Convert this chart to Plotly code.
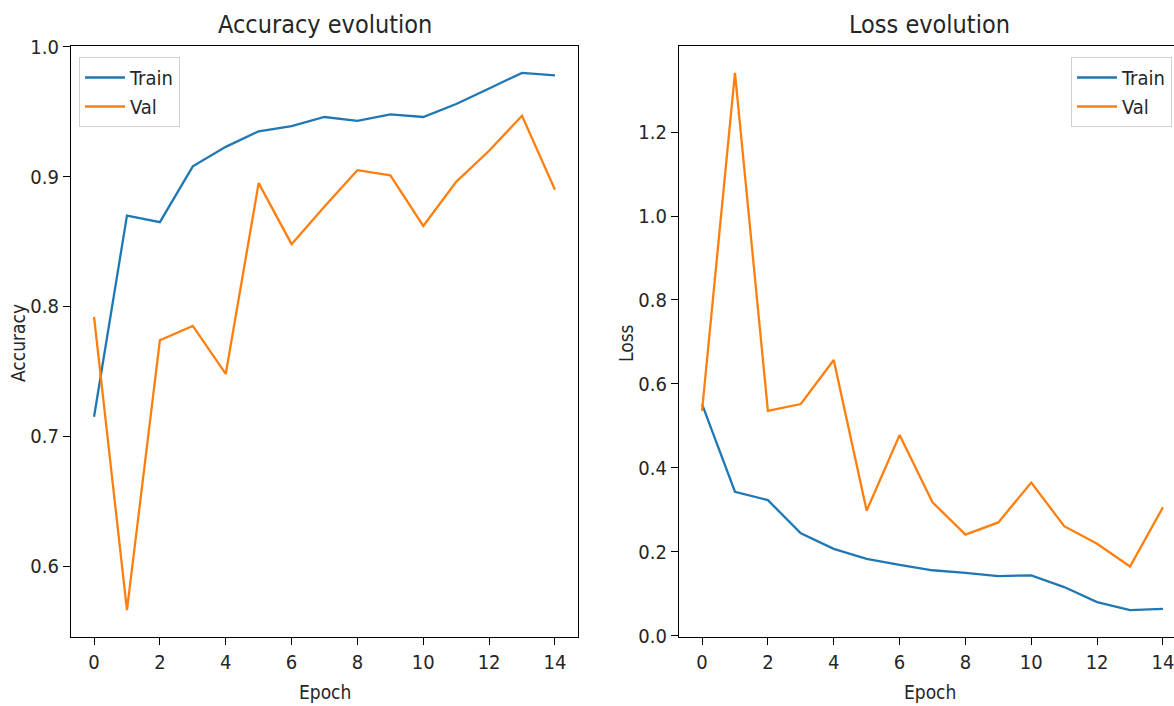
import plotly.graph_objects as go

# ---- data ----
epochs = list(range(15))
train_acc = [0.715, 0.870, 0.865, 0.908, 0.923, 0.935, 0.939, 0.946, 0.943, 0.948,
             0.946, 0.956, 0.968, 0.980, 0.978]
val_acc = [0.792, 0.566, 0.774, 0.785, 0.748, 0.895, 0.848, 0.877, 0.905, 0.901,
           0.862, 0.896, 0.920, 0.947, 0.890]
train_loss = [0.552, 0.343, 0.323, 0.244, 0.207, 0.183, 0.169, 0.156, 0.150, 0.142,
              0.144, 0.116, 0.080, 0.061, 0.064]
val_loss = [0.536, 1.341, 0.536, 0.552, 0.657, 0.298, 0.478, 0.318, 0.241, 0.270,
            0.365, 0.261, 0.219, 0.165, 0.306]
series_names = ["Train", "Val"]
acc_ticks = [0.6, 0.7, 0.8, 0.9, 1.0]
loss_ticks = [0.0, 0.2, 0.4, 0.6, 0.8, 1.0, 1.2]
x_ticks = [0, 2, 4, 6, 8, 10, 12, 14]

BLUE = "#1f77b4"
ORANGE = "#ff7f0e"
FONT = "DejaVu Sans Condensed, Liberation Sans Narrow, DejaVu Sans, sans-serif"
TXT = "#262626"
W, H = 1174, 706


def padded(vals):
    lo, hi = min(vals), max(vals)
    m = (hi - lo) * 0.05
    return [lo - m, hi + m]


fig = go.Figure()
for ys, name, color, xa, ya, lg in [
    (train_acc, series_names[0], BLUE, "x", "y", "legend"),
    (val_acc, series_names[1], ORANGE, "x", "y", "legend"),
    (train_loss, series_names[0], BLUE, "x2", "y2", "legend2"),
    (val_loss, series_names[1], ORANGE, "x2", "y2", "legend2"),
]:
    fig.add_trace(go.Scatter(x=epochs, y=ys, name=name, mode="lines",
                             line=dict(color=color, width=2.3),
                             xaxis=xa, yaxis=ya, legend=lg))

ydom = [1 - 637 / H, 1 - 46 / H]
axis_common = dict(showgrid=False, zeroline=False, showline=True, linecolor="black",
                   linewidth=1.2, ticks="outside", ticklen=7, tickwidth=1.2,
                   tickcolor="black", automargin=False,
                   tickfont=dict(family=FONT, size=20, color=TXT))

px_per_epoch = (578 - 71) / 15.4
right_w = W - 679
legend_common = dict(yanchor="top", xanchor="left", y=1 - 57 / H,
                     bgcolor="rgba(255,255,255,0.8)", bordercolor="#d0d0d0",
                     borderwidth=1, itemwidth=40,
                     font=dict(family=FONT, size=20, color=TXT))
fig.update_layout(
    width=W, height=H,
    margin=dict(l=0, r=0, t=0, b=0, autoexpand=False),
    paper_bgcolor="white", plot_bgcolor="white",
    font=dict(family=FONT, size=20, color=TXT),
    xaxis=dict(domain=[71 / W, 578 / W], range=[-0.7, 14.7], tickvals=x_ticks,
               mirror=True, anchor="y", **axis_common),
    yaxis=dict(domain=ydom, range=padded(train_acc + val_acc), tickvals=acc_ticks,
               tickformat=".1f", mirror=True, anchor="x", **axis_common),
    xaxis2=dict(domain=[679 / W, 1.0], range=[-0.7, -0.7 + right_w / px_per_epoch],
                tickvals=x_ticks, mirror=True, anchor="y2",
                ticklabeloverflow="allow", **axis_common),
    yaxis2=dict(domain=ydom, range=padded(train_loss + val_loss), tickvals=loss_ticks,
                tickformat=".1f", mirror=False, anchor="x2", **axis_common),
    legend=dict(x=79 / W, **legend_common),
    legend2=dict(x=1071 / W, **legend_common),
    showlegend=True,
)

# titles and axis labels as text annotations
ann = [
    dict(text="Accuracy evolution", x=324.5 / W, y=1 - 24 / H, size=25, angle=0),
    dict(text="Loss evolution", x=930 / W, y=1 - 24 / H, size=25, angle=0),
    dict(text="Epoch", x=324.5 / W, y=1 - 692 / H, size=19, angle=0),
    dict(text="Epoch", x=930 / W, y=1 - 692 / H, size=19, angle=0),
    dict(text="Accuracy", x=18 / W, y=1 - 343 / H, size=19, angle=-90),
    dict(text="Loss", x=626 / W, y=1 - 343 / H, size=19, angle=-90),
]
for a in ann:
    fig.add_annotation(text=a["text"], x=a["x"], y=a["y"], xref="paper", yref="paper",
                       xanchor="center", yanchor="middle", showarrow=False,
                       textangle=a["angle"],
                       font=dict(family=FONT, size=a["size"], color=TXT))

fig.write_html("out.html", config={"displayModeBar": False})
